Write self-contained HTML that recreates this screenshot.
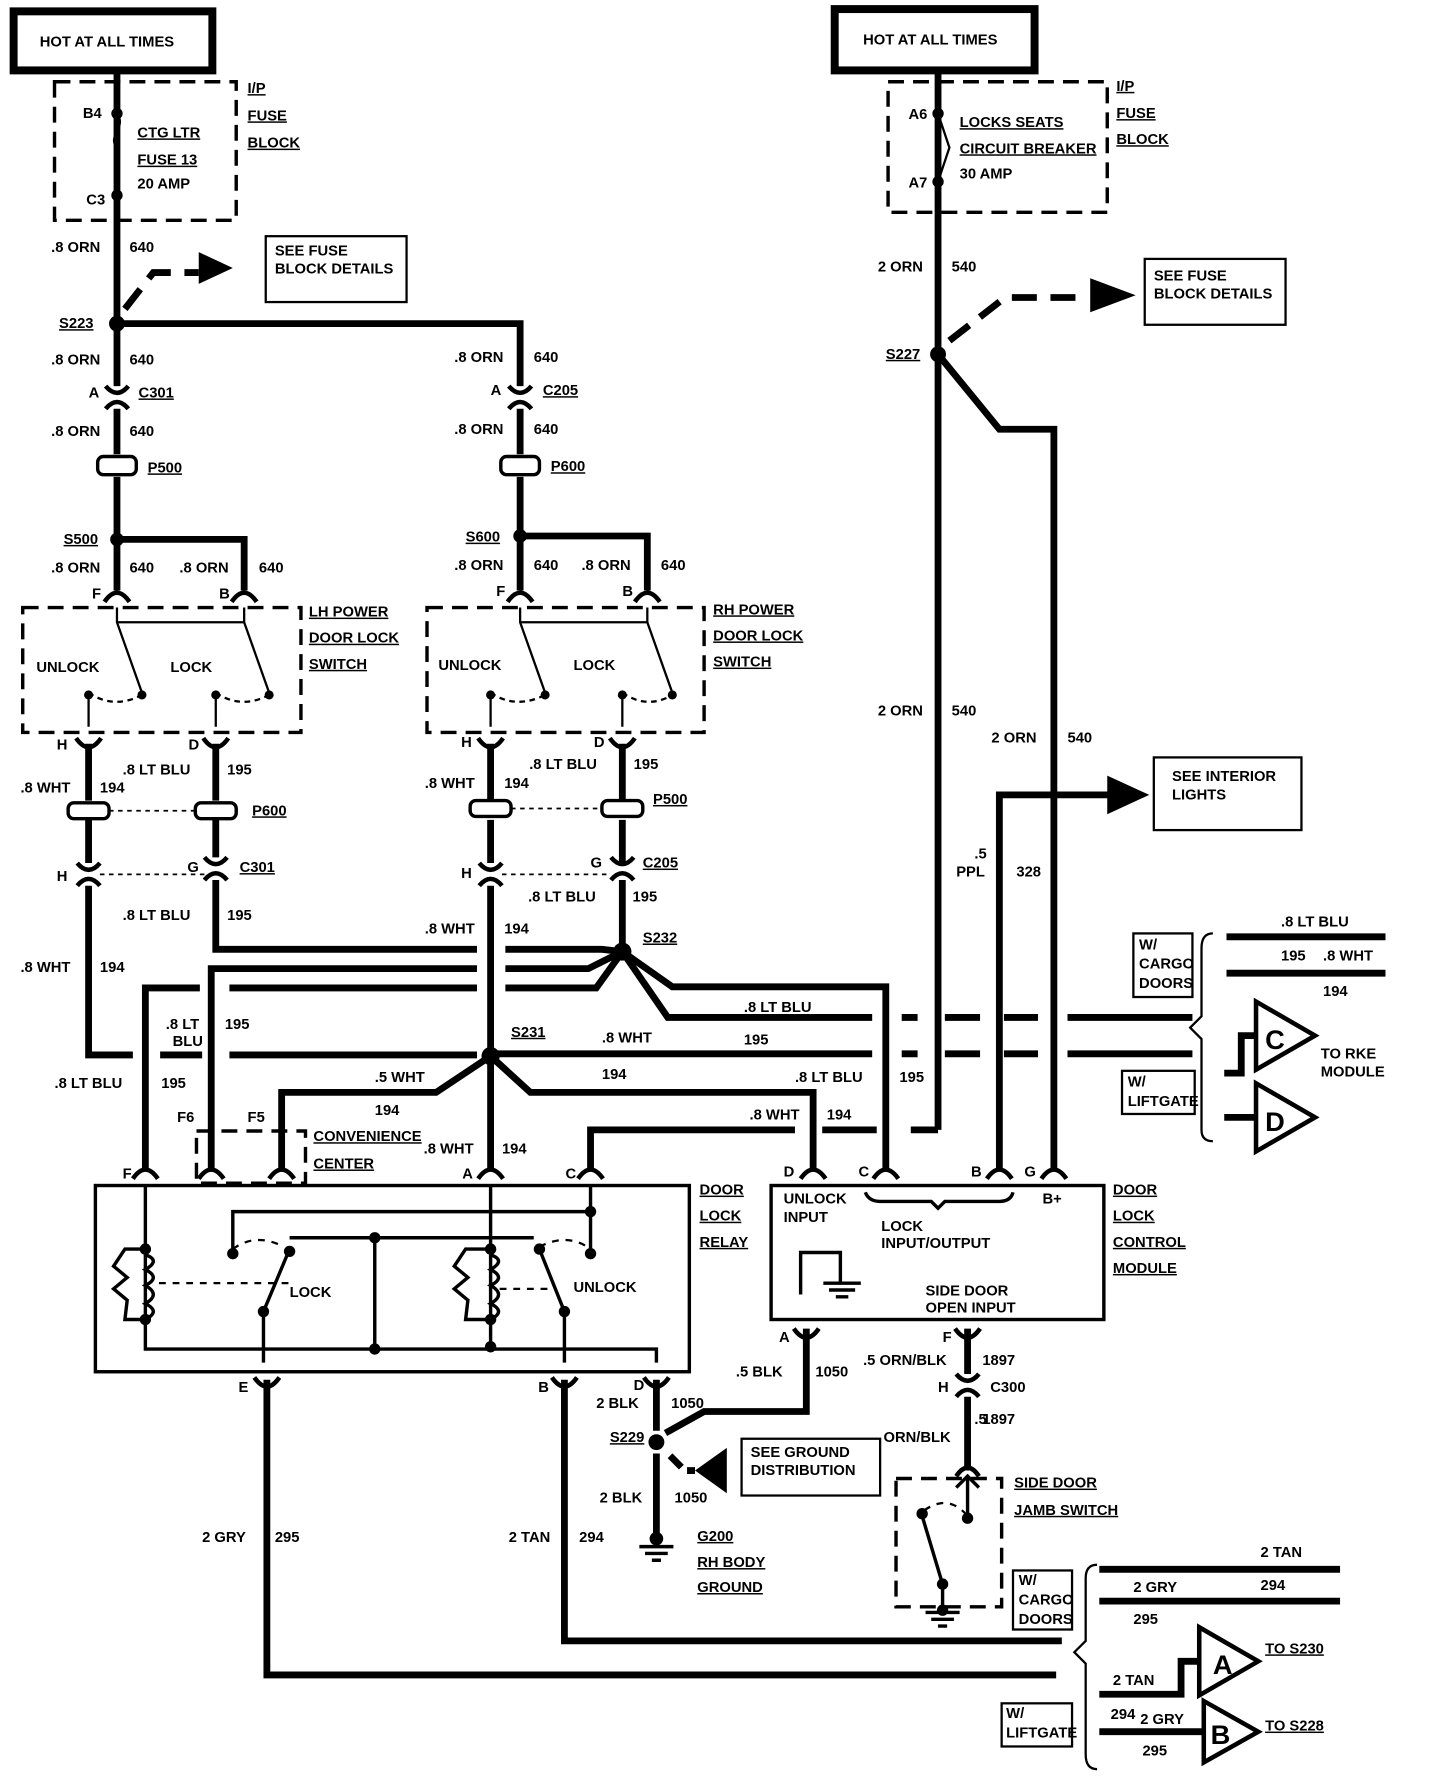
<!DOCTYPE html>
<html><head><meta charset="utf-8"><style>
html,body{margin:0;padding:0;background:#fff;}
svg{display:block}
text{font-family:"Liberation Sans",sans-serif;font-weight:bold;font-size:13px;fill:#000;}
.u{text-decoration:underline;}
</style></head><body>
<svg width="1440" height="1776" viewBox="0 0 1268 1564" preserveAspectRatio="none" xmlns="http://www.w3.org/2000/svg">
<rect width="1268" height="1564" fill="#fff"/>
<g fill="none" stroke="#000" stroke-width="6" stroke-linejoin="miter">
<rect x="12" y="10" width="175" height="52" stroke-width="7"/>
<rect x="735" y="8" width="176" height="54" stroke-width="7"/>
</g>
<text x="35" y="41">HOT AT ALL TIMES</text>
<text x="760" y="39">HOT AT ALL TIMES</text>
<g fill="none" stroke="#000" stroke-width="3" stroke-dasharray="14,8">
<rect x="48" y="72" width="160" height="122"/>
<rect x="782" y="72" width="193" height="115"/>
<rect x="20" y="535" width="245" height="110"/>
<rect x="376" y="535" width="244" height="110"/>
<rect x="173" y="996" width="96" height="46"/>
<rect x="789" y="1302" width="93" height="113"/>
</g>
<text x="73" y="104">B4</text><text x="76" y="180">C3</text>
<text x="121" y="121" class="u">CTG LTR</text><text x="121" y="145" class="u">FUSE 13</text><text x="121" y="166">20 AMP</text>
<text x="218" y="82" class="u">I/P</text><text x="218" y="106" class="u">FUSE</text><text x="218" y="130" class="u">BLOCK</text>
<text x="800" y="105">A6</text><text x="800" y="165">A7</text>
<text x="845" y="112" class="u">LOCKS SEATS</text><text x="845" y="135" class="u">CIRCUIT BREAKER</text><text x="845" y="157">30 AMP</text>
<text x="983" y="80" class="u">I/P</text><text x="983" y="104" class="u">FUSE</text><text x="983" y="127" class="u">BLOCK</text>
<g fill="none" stroke="#000" stroke-width="2">
<path d="M103,100 C112,112 94,120 103,130 L103,172"/>
<rect x="234" y="208" width="124" height="58"/>
<rect x="1008" y="228" width="124" height="58"/>
<rect x="1016" y="667" width="130" height="64"/>
<rect x="653" y="1267" width="122" height="50"/>
</g>
<text x="242" y="225">SEE FUSE</text><text x="242" y="241">BLOCK DETAILS</text>
<text x="1016" y="247">SEE FUSE</text><text x="1016" y="263">BLOCK DETAILS</text>
<text x="1032" y="688">SEE INTERIOR</text><text x="1032" y="704">LIGHTS</text>
<text x="661" y="1283">SEE GROUND</text><text x="661" y="1299">DISTRIBUTION</text>
<g fill="none" stroke="#000" stroke-width="6">
<path d="M103,62 V340 M103,360 V400 M103,420 V520"/>
<path d="M103,285 H458 V340 M458,360 V400 M458,420 V520"/>
<path d="M103,475 H215 V520 M458,472 H570 V520"/>
<path d="M78,655 V705 M78,722 V760 M78,780 V929 H117 M141,929 H178 M202,929 H420"/>
<path d="M190,655 V705 M190,722 V755 M190,775 V836 H420 M445,836 H530 L548,838"/>
<path d="M432,655 V705 M432,722 V760 M432,780 V1030"/>
<path d="M548,655 V705 M548,722 V760 M548,775 V838"/>
<path d="M548,838 L518,853 H445 M420,853 H186 V1030"/>
<path d="M548,838 L525,870 H445 M420,870 H202 M176,870 H128 V1030"/>
<path d="M432,928 H768"/>
<path d="M432,930 L384,962 H248 V1030"/>
<path d="M432,930 L467,962 H716 V1030"/>
<path d="M548,838 L592,869 H780 V1030"/>
<path d="M548,838 L588,896 H768"/>
<path d="M520,1030 V995 H700 M724,995 H772 M802,995 H826"/>
<path d="M826,62 V995"/>
<path d="M826,312 L880,378 H928 V1030"/>
<path d="M880,1030 V700 H980"/>
<path d="M235,1215 V1475 H930 M497,1215 V1445 H935"/>
<path d="M578,1215 V1260 M578,1280 V1360"/>
<path d="M710,1170 V1243 H620 L586,1262"/>
<path d="M852,1170 V1210 M852,1230 V1295"/>
<path d="M940,896 H1050 M940,928 H1050"/>
</g>
<g stroke="#000" stroke-width="6" fill="none">
<path d="M794,896 H808 M832,896 H863 M884,896 H914 M794,928 H808 M832,928 H863 M884,928 H914"/>
</g>
<g stroke="#000" stroke-width="6" stroke-dasharray="22,12" fill="none">
<path d="M110,272 L135,240 H175"/>
<path d="M836,300 L885,262 H950"/>
</g>
<path d="M590,1282 L600,1292 M605,1295 H612" stroke="#000" stroke-width="6" fill="none"/>
<g fill="#000">
<path d="M175,222 L205,236 L175,250Z"/>
<path d="M960,245 L1000,260 L960,275Z"/>
<path d="M975,683 L1012,700 L975,717Z"/>
<path d="M640,1275 L612,1295 L640,1315Z"/>
<circle cx="103" cy="285" r="7"/><circle cx="103" cy="475" r="6"/><circle cx="458" cy="472" r="6"/>
<circle cx="826" cy="312" r="7"/><circle cx="548" cy="838" r="8"/><circle cx="432" cy="930" r="8"/>
<circle cx="103" cy="100" r="5"/><circle cx="103" cy="172" r="5"/><circle cx="826" cy="100" r="5"/><circle cx="826" cy="160" r="5"/>
<circle cx="578" cy="1270" r="7"/><circle cx="578" cy="1355" r="6"/>
</g>
<path d="M826,100 L836,130 L826,160" fill="none" stroke="#000" stroke-width="2"/>
<g fill="none" stroke="#000" stroke-width="4">
<path d="M93,340 Q103,352 113,340 M93,360 Q103,348 113,360"/>
<path d="M448,340 Q458,352 468,340 M448,360 Q458,348 468,360"/>
<path d="M68,760 Q78,772 88,760 M68,780 Q78,768 88,780"/>
<path d="M180,755 Q190,767 200,755 M180,775 Q190,763 200,775"/>
<path d="M422,760 Q432,772 442,760 M422,780 Q432,768 442,780"/>
<path d="M538,755 Q548,767 558,755 M538,775 Q548,763 558,775"/>
<path d="M92,530 Q103,514 114,530 M204,530 Q215,514 226,530 M447,530 Q458,514 469,530 M559,530 Q570,514 581,530"/>
<path d="M67,650 Q78,666 89,650 M179,650 Q190,666 201,650 M421,650 Q432,666 443,650 M537,650 Q548,666 559,650"/>
<path d="M117,1038 Q128,1022 139,1038 M175,1038 Q186,1022 197,1038 M237,1038 Q248,1022 259,1038 M421,1038 Q432,1022 443,1038 M509,1038 Q520,1022 531,1038 M705,1038 Q716,1022 727,1038 M769,1038 Q780,1022 791,1038 M869,1038 Q880,1022 891,1038 M917,1038 Q928,1022 939,1038"/>
<path d="M224,1213 Q235,1229 246,1213 M486,1213 Q497,1229 508,1213 M567,1213 Q578,1229 589,1213 M699,1170 Q710,1186 721,1170 M841,1170 Q852,1186 863,1170 M842,1210 Q852,1222 862,1210 M842,1230 Q852,1218 862,1230 M842,1300 Q852,1285 862,1300"/>
</g>
<g fill="#fff" stroke="#000" stroke-width="3">
<rect x="86" y="402" width="34" height="16" rx="5"/><rect x="441" y="402" width="34" height="16" rx="5"/>
<rect x="60" y="707" width="36" height="14" rx="5"/><rect x="172" y="707" width="36" height="14" rx="5"/>
<rect x="414" y="705" width="36" height="14" rx="5"/><rect x="530" y="705" width="36" height="14" rx="5"/>
</g>
<g stroke="#000" stroke-width="1.5" stroke-dasharray="4,4"><path d="M96,714 H172 M88,770 H180 M450,712 H530 M442,770 H538"/></g>
<g fill="none" stroke="#000" stroke-width="2">
<path d="M103,548 H215 M458,548 H570 M103,535 V548 L125,610 M215,535 V548 L237,610 M458,535 V548 L480,610 M570,535 V548 L592,610"/>
<path d="M78,610 Q100,625 125,612 M190,610 Q212,625 237,612 M432,610 Q454,625 480,612 M548,610 Q570,625 592,612" stroke-dasharray="5,4"/>
<path d="M78,610 V640 M190,610 V640 M432,610 V640 M548,610 V640"/>
</g>
<g fill="#000"><circle cx="78" cy="612" r="4"/><circle cx="190" cy="612" r="4"/><circle cx="432" cy="612" r="4"/><circle cx="548" cy="612" r="4"/>
<circle cx="125" cy="612" r="4"/><circle cx="237" cy="612" r="4"/><circle cx="480" cy="612" r="4"/><circle cx="592" cy="612" r="4"/></g>
<text x="32" y="592">UNLOCK</text><text x="150" y="592">LOCK</text><text x="386" y="590">UNLOCK</text><text x="505" y="590">LOCK</text>
<text x="272" y="543" class="u">LH POWER</text><text x="272" y="566" class="u">DOOR LOCK</text><text x="272" y="589" class="u">SWITCH</text>
<text x="628" y="541" class="u">RH POWER</text><text x="628" y="564" class="u">DOOR LOCK</text><text x="628" y="587" class="u">SWITCH</text>
<g fill="none" stroke="#000" stroke-width="3">
<rect x="84" y="1044" width="523" height="164"/>
<rect x="679" y="1044" width="293" height="118"/>
<path d="M128,1044 V1188 H578 V1200 M205,1100 V1067 H520 V1100 M520,1044 V1067 M232,1155 V1200 M497,1155 V1200 M432,1044 V1188 M330,1090 H470 M255,1090 H330 V1188"/>
<path d="M232,1155 L255,1100 M497,1155 L475,1100"/>
<path d="M128,1100 H110 L100,1115 L112,1125 L100,1135 L112,1145 L110,1162 H128 M128,1105 Q142,1110 128,1118 Q142,1125 128,1132 Q142,1140 128,1148 Q142,1155 128,1162"/>
<path d="M432,1100 H410 L400,1115 L412,1125 L400,1135 L412,1145 L410,1162 H432 M432,1105 Q446,1110 432,1118 Q446,1125 432,1132 Q446,1140 432,1148 Q446,1155 432,1162"/>
<path d="M705,1140 V1103 H740 V1130 M725,1130 H758 M730,1136 H753 M736,1142 H747"/>
<path d="M762,1050 Q765,1058 775,1058 H820 L826,1064 L832,1058 H880 Q890,1058 892,1050"/>
<path d="M852,1300 V1335 M842,1310 L852,1300 L862,1310 M830,1395 L812,1335 M830,1395 V1418"/>
<path d="M815,1420 H845 M820,1426 H840 M826,1432 H834 M563,1362 H593 M568,1368 H588 M574,1374 H582"/>
</g>
<g fill="none" stroke="#000" stroke-width="2" stroke-dasharray="6,6"><path d="M140,1130 H255 M440,1135 H490 M205,1100 Q225,1085 250,1098 M475,1098 Q500,1085 520,1100 M814,1330 Q835,1315 852,1335"/></g>
<g fill="#000"><circle cx="128" cy="1100" r="5"/><circle cx="128" cy="1162" r="5"/><circle cx="205" cy="1104" r="5"/><circle cx="255" cy="1102" r="5"/><circle cx="232" cy="1155" r="5"/><circle cx="330" cy="1090" r="5"/><circle cx="330" cy="1188" r="5"/><circle cx="432" cy="1100" r="5"/><circle cx="432" cy="1162" r="5"/><circle cx="432" cy="1186" r="5"/><circle cx="475" cy="1100" r="5"/><circle cx="520" cy="1104" r="5"/><circle cx="520" cy="1067" r="5"/><circle cx="497" cy="1155" r="5"/><circle cx="830" cy="1395" r="5"/><circle cx="812" cy="1333" r="5"/><circle cx="852" cy="1337" r="5"/><circle cx="830" cy="1418" r="5"/></g>
<text x="255" y="1142">LOCK</text><text x="505" y="1138">UNLOCK</text>
<text x="616" y="1052" class="u">DOOR</text><text x="616" y="1075" class="u">LOCK</text><text x="616" y="1098" class="u">RELAY</text>
<text x="690" y="1060">UNLOCK</text><text x="690" y="1076">INPUT</text><text x="776" y="1084">LOCK</text><text x="776" y="1099">INPUT/OUTPUT</text>
<text x="918" y="1060">B+</text><text x="815" y="1141">SIDE DOOR</text><text x="815" y="1156">OPEN INPUT</text>
<text x="980" y="1052" class="u">DOOR</text><text x="980" y="1075" class="u">LOCK</text><text x="980" y="1098" class="u">CONTROL</text><text x="980" y="1121" class="u">MODULE</text>
<g>
<text x="45" y="222">.8 ORN</text><text x="114" y="222">640</text><text x="52" y="289" class="u">S223</text>
<text x="45" y="321">.8 ORN</text><text x="114" y="321">640</text><text x="78" y="350">A</text><text x="122" y="350" class="u">C301</text>
<text x="45" y="384">.8 ORN</text><text x="114" y="384">640</text><text x="130" y="416" class="u">P500</text>
<text x="56" y="479" class="u">S500</text><text x="45" y="504">.8 ORN</text><text x="114" y="504">640</text><text x="158" y="504">.8 ORN</text><text x="228" y="504">640</text>
<text x="81" y="527">F</text><text x="193" y="527">B</text>
<text x="400" y="319">.8 ORN</text><text x="470" y="319">640</text><text x="432" y="348">A</text><text x="478" y="348" class="u">C205</text>
<text x="400" y="382">.8 ORN</text><text x="470" y="382">640</text><text x="485" y="415" class="u">P600</text>
<text x="410" y="477" class="u">S600</text><text x="400" y="502">.8 ORN</text><text x="470" y="502">640</text><text x="512" y="502">.8 ORN</text><text x="582" y="502">640</text>
<text x="437" y="525">F</text><text x="548" y="525">B</text>
<text x="50" y="660">H</text><text x="166" y="660">D</text><text x="406" y="658">H</text><text x="523" y="658">D</text>
<text x="18" y="698">.8 WHT</text><text x="88" y="698">194</text><text x="108" y="682">.8 LT BLU</text><text x="200" y="682">195</text><text x="222" y="718" class="u">P600</text>
<text x="374" y="694">.8 WHT</text><text x="444" y="694">194</text><text x="466" y="677">.8 LT BLU</text><text x="558" y="677">195</text><text x="575" y="708" class="u">P500</text>
<text x="50" y="776">H</text><text x="165" y="768">G</text><text x="211" y="768" class="u">C301</text><text x="406" y="773">H</text><text x="520" y="764">G</text><text x="566" y="764" class="u">C205</text>
<text x="108" y="810">.8 LT BLU</text><text x="200" y="810">195</text><text x="465" y="794">.8 LT BLU</text><text x="557" y="794">195</text>
<text x="374" y="822">.8 WHT</text><text x="444" y="822">194</text><text x="566" y="830" class="u">S232</text>
<text x="18" y="856">.8 WHT</text><text x="88" y="856">194</text>
<text x="146" y="906">.8 LT</text><text x="152" y="921">BLU</text><text x="198" y="906">195</text>
<text x="48" y="958">.8 LT BLU</text><text x="142" y="958">195</text>
<text x="450" y="913" class="u">S231</text><text x="530" y="918">.8 WHT</text><text x="530" y="950">194</text>
<text x="655" y="891">.8 LT BLU</text><text x="655" y="920">195</text><text x="700" y="953">.8 LT BLU</text><text x="792" y="953">195</text>
<text x="330" y="953">.5 WHT</text><text x="330" y="982">194</text><text x="660" y="986">.8 WHT</text><text x="728" y="986">194</text>
<text x="156" y="988">F6</text><text x="218" y="988">F5</text><text x="276" y="1005" class="u">CONVENIENCE</text><text x="276" y="1029" class="u">CENTER</text>
<text x="373" y="1016">.8 WHT</text><text x="442" y="1016">194</text>
<text x="108" y="1038">F</text><text x="407" y="1038">A</text><text x="498" y="1038">C</text><text x="690" y="1036">D</text><text x="756" y="1036">C</text><text x="855" y="1036">B</text><text x="902" y="1036">G</text>
<text x="773" y="239">2 ORN</text><text x="838" y="239">540</text><text x="780" y="316" class="u">S227</text>
<text x="773" y="630">2 ORN</text><text x="838" y="630">540</text><text x="873" y="654">2 ORN</text><text x="940" y="654">540</text>
<text x="858" y="756">.5</text><text x="842" y="772">PPL</text><text x="895" y="772">328</text>
<text x="210" y="1226">E</text><text x="474" y="1226">B</text><text x="558" y="1224">D</text><text x="686" y="1182">A</text><text x="830" y="1182">F</text>
<text x="525" y="1240">2 BLK</text><text x="591" y="1240">1050</text><text x="648" y="1212">.5 BLK</text><text x="718" y="1212">1050</text>
<text x="760" y="1202">.5 ORN/BLK</text><text x="865" y="1202">1897</text><text x="826" y="1226">H</text><text x="872" y="1226">C300</text>
<text x="858" y="1254">.5</text><text x="778" y="1270">ORN/BLK</text><text x="865" y="1254">1897</text>
<text x="537" y="1270" class="u">S229</text><text x="528" y="1323">2 BLK</text><text x="594" y="1323">1050</text>
<text x="614" y="1357" class="u">G200</text><text x="614" y="1380" class="u">RH BODY</text><text x="614" y="1402" class="u">GROUND</text>
<text x="893" y="1310" class="u">SIDE DOOR</text><text x="893" y="1334" class="u">JAMB SWITCH</text>
<text x="178" y="1358">2 GRY</text><text x="242" y="1358">295</text><text x="448" y="1358">2 TAN</text><text x="510" y="1358">294</text>
</g>
<g fill="none" stroke="#000" stroke-width="2">
<rect x="998" y="822" width="52" height="56"/><rect x="988" y="943" width="64" height="38"/>
<rect x="892" y="1383" width="52" height="52"/><rect x="882" y="1500" width="62" height="38"/>
<path d="M1068,822 Q1058,822 1058,835 V895 L1048,905 L1058,915 V995 Q1058,1005 1068,1005"/>
<path d="M966,1378 Q956,1378 956,1390 V1445 L946,1455 L956,1465 V1545 Q956,1558 966,1558"/>
<path d="M1106,882 L1158,912 L1106,942 Z M1106,954 L1158,984 L1106,1014 Z M1056,1433 L1108,1463 L1056,1493 Z M1060,1498 L1108,1525 L1060,1552 Z" stroke-width="4"/>
</g>
<g fill="none" stroke="#000" stroke-width="6">
<path d="M1080,825 H1220 M1080,857 H1220 M1078,945 H1093 V912 H1106 M1078,984 H1106 M968,1382 H1180 M968,1410 H1180 M968,1492 H1040 V1463 H1056 M968,1525 H1060"/>
</g>
<text x="1128" y="816">.8 LT BLU</text><text x="1128" y="846">195</text><text x="1165" y="846">.8 WHT</text><text x="1165" y="877">194</text>
<text x="1003" y="836">W/</text><text x="1003" y="853">CARGO</text><text x="1003" y="870">DOORS</text>
<text x="993" y="957">W/</text><text x="993" y="974">LIFTGATE</text>
<text x="1114" y="924" style="font-size:24px">C</text><text x="1114" y="996" style="font-size:24px">D</text>
<text x="1163" y="932">TO RKE</text><text x="1163" y="948">MODULE</text>
<text x="1110" y="1371">2 TAN</text><text x="998" y="1402">2 GRY</text><text x="1110" y="1400">294</text><text x="998" y="1430">295</text>
<text x="897" y="1396">W/</text><text x="897" y="1413">CARGO</text><text x="897" y="1430">DOORS</text>
<text x="886" y="1513">W/</text><text x="886" y="1530">LIFTGATE</text>
<text x="980" y="1484">2 TAN</text><text x="978" y="1514">294</text><text x="1004" y="1518">2 GRY</text><text x="1006" y="1546">295</text>
<text x="1068" y="1474" style="font-size:24px">A</text><text x="1066" y="1536" style="font-size:24px">B</text>
<text x="1114" y="1456" class="u">TO S230</text><text x="1114" y="1524" class="u">TO S228</text>
</svg>
</body></html>
